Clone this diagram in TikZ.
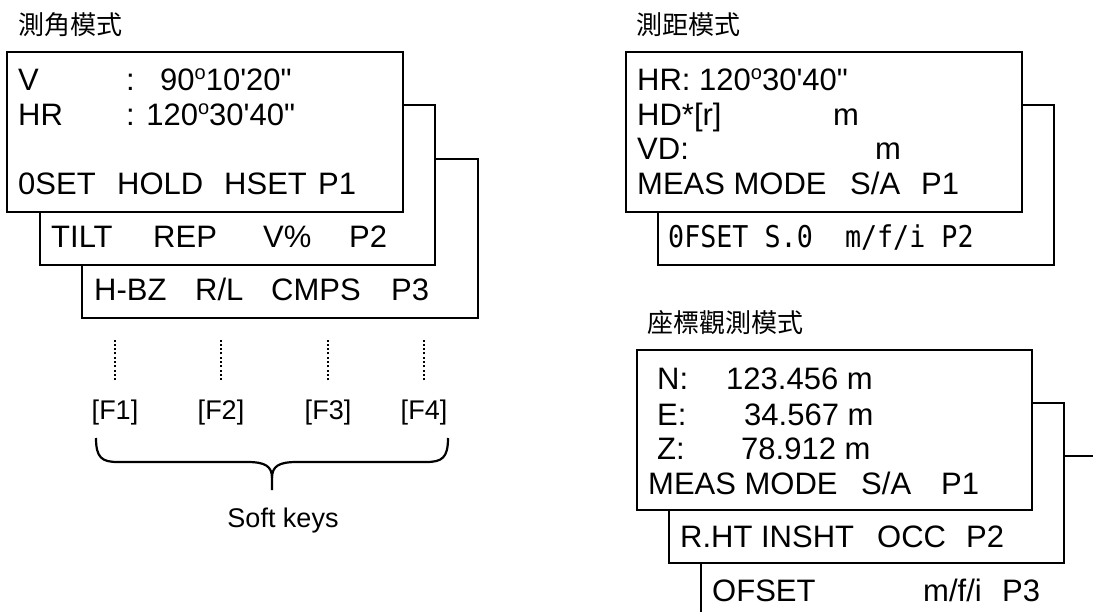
\documentclass[tikz,border=0pt]{standalone}
\usepackage{fontspec}
\setmainfont{Liberation Sans}[Ligatures=TeXOff]
\newfontfamily\cjk{Noto Sans CJK TC}
\newfontfamily\lcdmono{DejaVu Sans Mono}[FakeStretch=0.89]

% small raised o used as degree sign
\newcommand{\dg}{\raisebox{11.5pt}{\fontsize{20pt}{20pt}\selectfont o}}

\tikzset{
  panel/.style={draw, line width=2.2pt, fill=white},
  lcd/.style={anchor=base west, inner sep=0pt, font=\fontsize{31}{36}\selectfont},
  lcdmono/.style={anchor=base west, inner sep=0pt, font=\lcdmono\fontsize{30}{36}\selectfont},
  modetitle/.style={anchor=west, inner sep=0pt, font=\cjk\fontsize{26}{30}\selectfont},
  keylbl/.style={anchor=base, inner sep=0pt, font=\fontsize{27}{32}\selectfont},
  keyline/.style={line width=2pt, dash pattern=on 2pt off 2.3pt},
}

\begin{document}
\begin{tikzpicture}[x=1pt, y=-1pt]

% Page frame
\clip (0,0) rectangle (1093,612);

% ---------------- Angle mode ----------------
\node[modetitle] (tAng) at (18,25) {測角模式};

% Panels, back to front
\draw[panel] (82,159) rectangle (478,318);
\draw[panel] (40,105) rectangle (435,265);
\draw[panel] (7,52) rectangle (403,212);

% Page 1
\node[lcd] (aV)    at (18,91)   {V};
\node[lcd] (aVc)   at (126,91)  {:};
\node[lcd] (aVv)   at (160,91)  {90\dg10'20"};
\node[lcd] (aHR)   at (18,126)  {HR};
\node[lcd] (aHRv)  at (126,126) {: 120\dg30'40"};
\node[lcd] (aK1)   at (18,195)  {0SET};
\node[lcd] (aK2)   at (117,195) {HOLD};
\node[lcd] (aK3)   at (224,195) {HSET};
\node[lcd] (aP1)   at (318,195) {P1};

% Page 2
\node[lcd] (bK1)   at (51,248)  {TILT};
\node[lcd] (bK2)   at (153,248) {REP};
\node[lcd] (bK3)   at (263,248) {V\%};
\node[lcd] (bP2)   at (349,248) {P2};

% Page 3
\node[lcd] (cK1)   at (94,301)  {H-BZ};
\node[lcd] (cK2)   at (195,301) {R/L};
\node[lcd] (cK3)   at (271,301) {CMPS};
\node[lcd] (cP3)   at (391,301) {P3};

% Soft keys
\node[keylbl] (f1) at (115,419) {[F1]};
\node[keylbl] (f2) at (221,419) {[F2]};
\node[keylbl] (f3) at (328,419) {[F3]};
\node[keylbl] (f4) at (424,419) {[F4]};

\draw[keyline] ([yshift=19pt]f1.north) -- ([yshift=59pt]f1.north);
\draw[keyline] ([yshift=19pt]f2.north) -- ([yshift=59pt]f2.north);
\draw[keyline] ([yshift=19pt]f3.north) -- ([yshift=59pt]f3.north);
\draw[keyline] ([yshift=19pt]f4.north) -- ([yshift=59pt]f4.north);

% Brace
\coordinate (bL) at (96,438);
\coordinate (bR) at (448,438);
\coordinate (bT) at (272,490);
\draw[line width=2.2pt, line join=round]
  (bL) .. controls (96,458) and (102,462) .. (118,462) -- (247,462)
  .. controls (265,462) and (272,466) .. (272,478) -- (bT);
\draw[line width=2.2pt, line join=round]
  (bR) .. controls (448,458) and (442,462) .. (426,462) -- (297,462)
  .. controls (279,462) and (272,466) .. (272,478);

\node[keylbl] (soft) at (283,527) {Soft keys};

% ---------------- Distance mode ----------------
\node[modetitle] (tDist) at (636,25) {測距模式};

\draw[panel] (658,105) rectangle (1054,265);
\draw[panel] (626,52) rectangle (1022,212);

\node[lcd] (dHR)   at (637,91)  {HR: 120\dg30'40"};
\node[lcd] (dHD)   at (637,126) {HD*[r]};
\node[lcd] (dHDm)  at (833,126) {m};
\node[lcd] (dVD)   at (637,160) {VD:};
\node[lcd] (dVDm)  at (875,160) {m};
\node[lcd] (dK1)   at (637,195) {MEAS MODE};
\node[lcd] (dK2)   at (850,195) {S/A};
\node[lcd] (dP1)   at (921,195) {P1};
\node[lcdmono] (dP2) at (668,248) {0FSET S.0\ \ m/f/i P2};

% ---------------- Coordinate mode ----------------
\node[modetitle] (tCoord) at (647,323) {座標觀測模式};

\draw[panel] (701,456) rectangle (1120,640);
\draw[panel] (669,403) rectangle (1064,563);
\draw[panel] (637,350) rectangle (1032,510);

\node[lcd] (eN)    at (657,390) {N:};
\node[lcd] (eNv)   at (726,390) {123.456 m};
\node[lcd] (eE)    at (657,425) {E:};
\node[lcd] (eEv)   at (744,425) {34.567 m};
\node[lcd] (eZ)    at (657,459) {Z:};
\node[lcd] (eZv)   at (741,459) {78.912 m};
\node[lcd] (eK1)   at (648,494) {MEAS MODE};
\node[lcd] (eK2)   at (861,494) {S/A};
\node[lcd] (eP1)   at (941,494) {P1};
\node[lcd] (gK1)   at (680,547) {R.HT INSHT};
\node[lcd] (gK2)   at (877,547) {OCC};
\node[lcd] (gP2)   at (966,547) {P2};
\node[lcd] (hK1)   at (712,601) {OFSET};
\node[lcd] (hK2)   at (923,601) {m/f/i};
\node[lcd] (hP3)   at (1002,601) {P3};

\end{tikzpicture}
\end{document}
